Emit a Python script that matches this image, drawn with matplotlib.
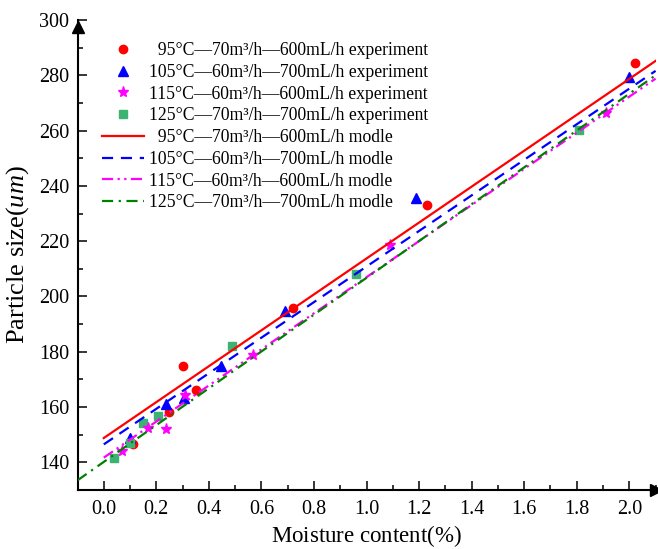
import matplotlib
matplotlib.use("Agg")
import matplotlib.pyplot as plt
from matplotlib.ticker import MultipleLocator

plt.rcParams['font.family'] = ['Liberation Serif', 'DejaVu Serif']
plt.rcParams['mathtext.fontset'] = 'custom'
plt.rcParams['mathtext.rm'] = 'Liberation Serif'
plt.rcParams['mathtext.it'] = 'Liberation Serif:italic'

# experiment data (moisture content %, particle size um)
x_95 = [0.11, 0.25, 0.30, 0.35, 0.72, 1.23, 2.02]
y_95 = [146.7, 158.1, 175.0, 166.2, 195.9, 233.0, 284.3]

x_105 = [0.10, 0.235, 0.305, 0.445, 0.69, 1.19, 2.00]
y_105 = [148.8, 161.2, 163.2, 175.0, 194.7, 235.7, 279.5]

x_115 = [0.07, 0.168, 0.238, 0.308, 0.568, 1.088, 1.91]
y_115 = [144.0, 152.6, 151.9, 164.3, 178.7, 218.6, 266.2]

x_125 = [0.04, 0.10, 0.149, 0.208, 0.489, 0.959, 1.81]
y_125 = [141.6, 147.1, 154.4, 156.9, 182.0, 208.1, 260.2]

# model lines (end points)
mx_95 = [0.0, 2.1]
my_95 = [148.8, 285.2]
mx_105 = [0.0, 2.1]
my_105 = [146.5, 281.6]
mx_115 = [0.0, 2.1]
my_115 = [141.7, 278.8]
mx_125 = [-0.1, 2.1]
my_125 = [133.5, 280.0]

labels_exp = ["  95°C—70m³/h—600mL/h experiment",
              "105°C—60m³/h—700mL/h experiment",
              "115°C—60m³/h—600mL/h experiment",
              "125°C—70m³/h—700mL/h experiment"]
labels_mod = ["  95°C—70m³/h—600mL/h modle",
              "105°C—60m³/h—700mL/h modle",
              "115°C—60m³/h—600mL/h modle",
              "125°C—70m³/h—700mL/h modle"]

fig = plt.figure(figsize=(6.58, 5.49), dpi=100)
ax = fig.add_axes([77.5 / 658, 59 / 549, (655.6 - 77.5) / 658, 470 / 549])

h1, = ax.plot(x_95, y_95, 'o', color='#ff0000', ms=6, ls='none', zorder=3)
h2, = ax.plot(x_105, y_105, '^', color='#0000ff', ms=6.5, ls='none', zorder=3)
h3, = ax.plot(x_125, y_125, 's', color='#3cb371', ms=5.5, ls='none', zorder=3)
h4, = ax.plot(x_115, y_115, '*', color='#ff00ff', ms=8, ls='none', zorder=4)

l1, = ax.plot(mx_95, my_95, '-', color='#ff0000', lw=1.6, zorder=5)
l2, = ax.plot(mx_105, my_105, color='#0000ff', lw=1.6, ls=(0, (5, 3.5)), zorder=5)
l3, = ax.plot(mx_115, my_115, color='#ff00ff', lw=1.6, ls=(0, (5, 2, 1, 2, 1, 2)), zorder=5)
l4, = ax.plot(mx_125, my_125, color='#008000', lw=1.6, ls=(0, (5, 2.5, 1, 2.5)), zorder=5)

ax.set_xlim(-0.1, 2.1)
ax.set_ylim(130, 300)
ax.xaxis.set_minor_locator(MultipleLocator(0.1))
ax.yaxis.set_minor_locator(MultipleLocator(10))
ax.set_xticks([0.0, 0.2, 0.4, 0.6, 0.8, 1.0, 1.2, 1.4, 1.6, 1.8, 2.0])
ax.set_yticks([140, 160, 180, 200, 220, 240, 260, 280, 300])

ax.tick_params(which='both', direction='in', width=1.1, labelsize=14.5)
ax.tick_params(which='major', length=6.5)
ax.tick_params(which='minor', length=3.6)
ax.tick_params(axis='y', pad=6)
ax.tick_params(axis='x', pad=7)

for side in ['top', 'right']:
    ax.spines[side].set_visible(False)
for side in ['left', 'bottom']:
    ax.spines[side].set_linewidth(1.5)

# arrow heads on the axes
ax.plot(1, 130, '>k', ms=9, transform=ax.get_yaxis_transform(), clip_on=False)
ax.plot(0, 297.5, '^k', ms=9, transform=ax.get_yaxis_transform(), clip_on=False)

ax.set_xlabel("Moisture content$\\mathit{(\\%)}$", fontsize=16.5)
ax.set_ylabel("Particle size($\\mathit{um}$)", fontsize=19)
ax.xaxis.set_label_coords(0.5, -0.07)
ax.yaxis.set_label_coords(-0.08, 0.5)

ax.legend([h1, h2, h4, h3, l1, l2, l3, l4], labels_exp + labels_mod,
          loc='upper left', bbox_to_anchor=(102 / 658, 1 - 42 / 549),
          bbox_transform=fig.transFigure, frameon=False, fontsize=12.7,
          handlelength=2.4, handletextpad=0.25, labelspacing=0.27,
          borderpad=0, borderaxespad=0, numpoints=1)

fig.savefig("out.png", dpi=100)
